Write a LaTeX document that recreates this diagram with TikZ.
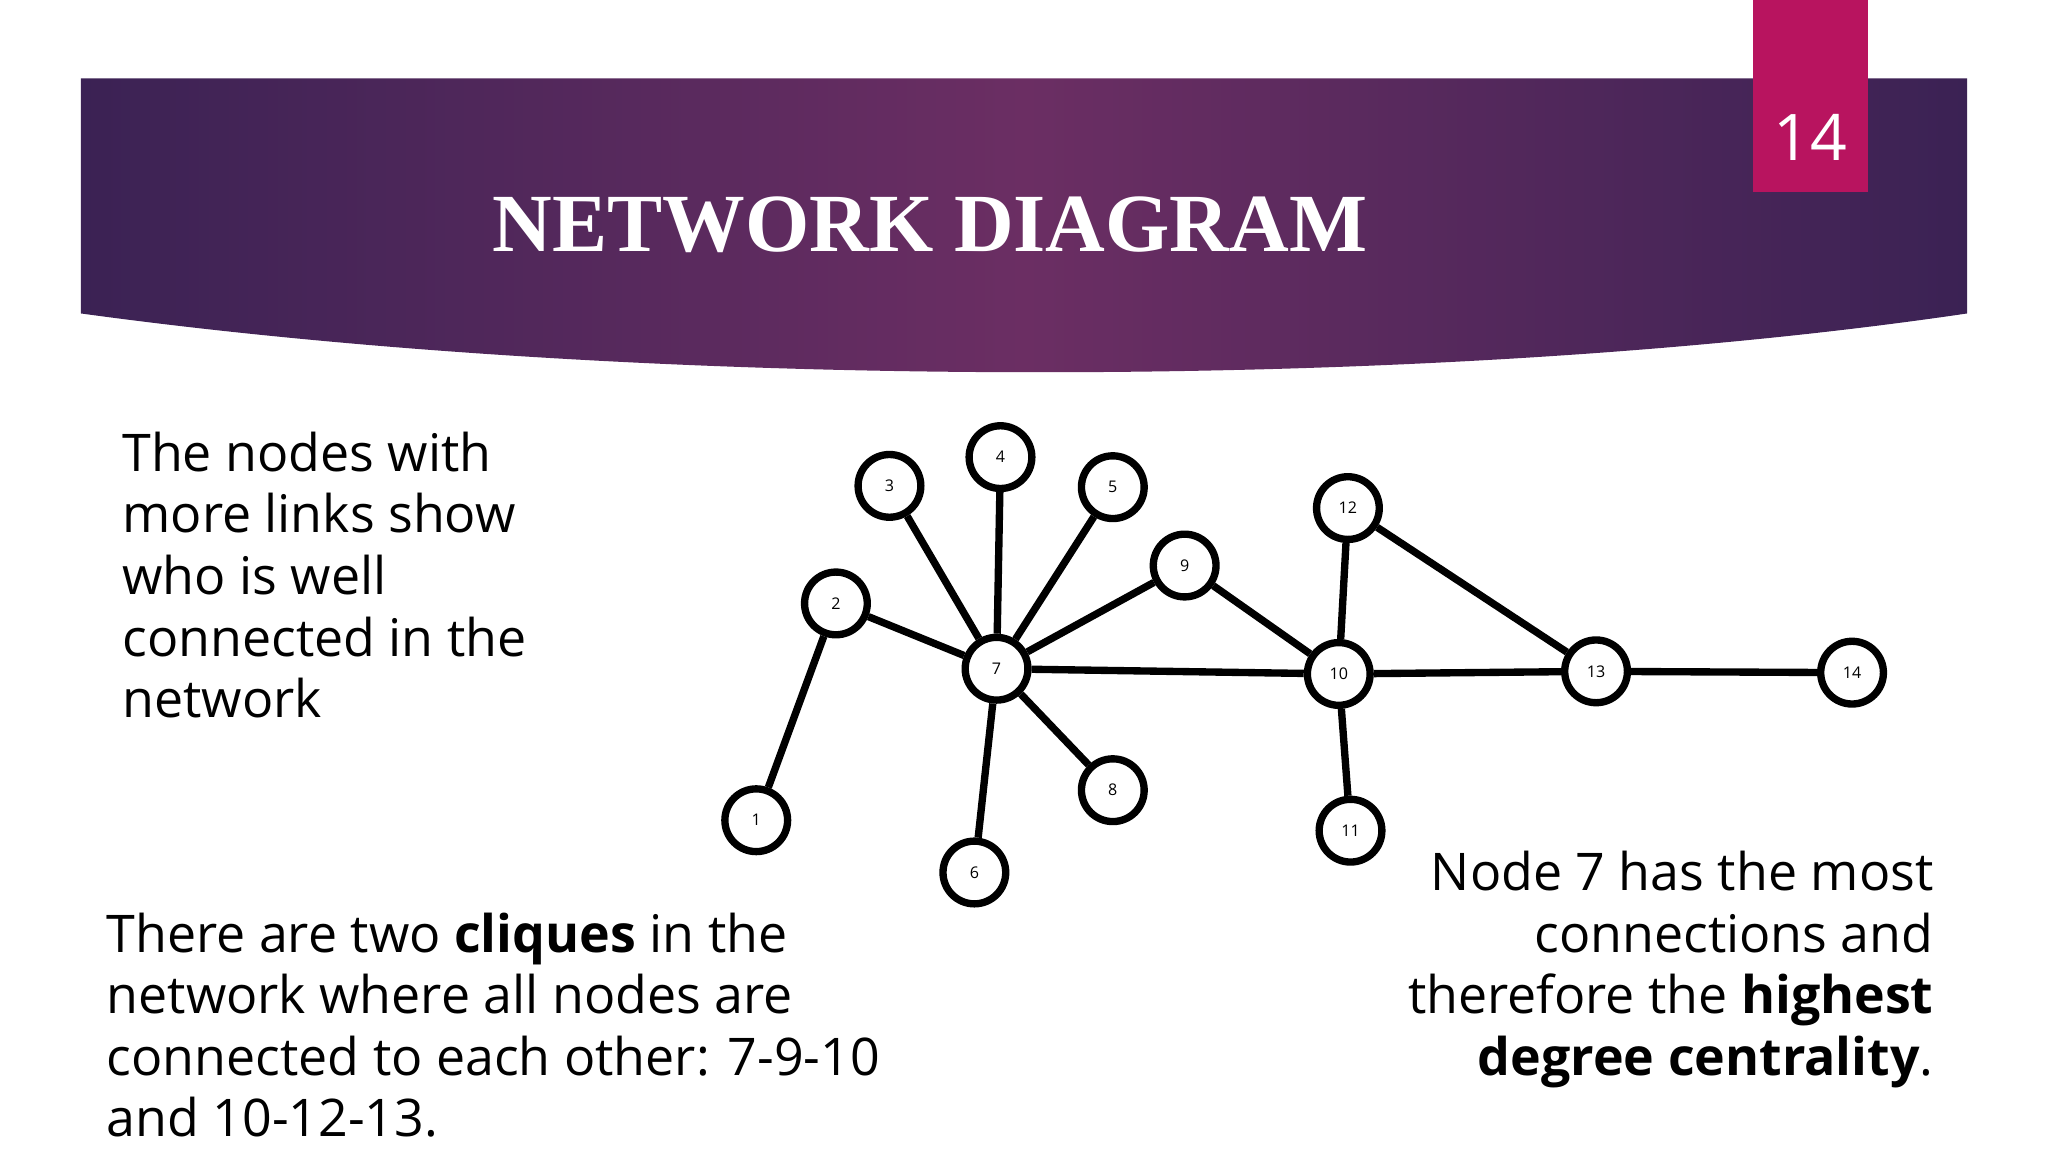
\documentclass[tikz,border=0pt]{standalone}
\usepackage{fontspec}
\setmainfont{Open Sans}
\newfontfamily\titlefont{Liberation Serif}
\usetikzlibrary{positioning}
\definecolor{bandL}{HTML}{3B2254}
\definecolor{bandC}{HTML}{6B2E63}
\definecolor{pagebox}{HTML}{B8145F}
\begin{document}
\begin{tikzpicture}[x=0.01cm,y=-0.01cm,
    vertex/.style={circle, draw=black, line width=1.6pt, fill=white, minimum size=0.48cm, inner sep=0pt, font=\fontsize{3.5}{4}\selectfont},
    link/.style={line width=1.6pt},
    body/.style={font=\fontsize{11.3}{13.4}\selectfont, align=left, inner sep=0pt}
  ]
  \useasboundingbox (0,0) rectangle (1568,882);
  \fill[white] (0,0) rectangle (1568,882);

  % header band
  \shade[left color=bandL, right color=bandL, middle color=bandC]
    (62,60) -- (1506,60) -- (1506,240) .. controls (1100,300) and (500,300) .. (62,240) -- cycle;
  \node[text=white, font=\titlefont\bfseries\fontsize{18}{20}\selectfont] (title) at (712,172) {NETWORK DIAGRAM};
  \fill[pagebox] (1342,0) rectangle (1430,147);
  \node[text=white, font=\fontsize{14}{16}\selectfont] (pnum) at (1386,105) {14};

  % nodes
  \node[vertex] (n1) at (579,628) {1};
  \node[vertex] (n2) at (640,462) {2};
  \node[vertex] (n3) at (681,372) {3};
  \node[vertex] (n4) at (766,350) {4};
  \node[vertex] (n5) at (852,373) {5};
  \node[vertex] (n6) at (746,668) {6};
  \node[vertex] (n7) at (763,512) {7};
  \node[vertex] (n8) at (852,605) {8};
  \node[vertex] (n9) at (907,433) {9};
  \node[vertex] (n10) at (1025,516) {10};
  \node[vertex] (n11) at (1034,636) {11};
  \node[vertex] (n12) at (1032,389) {12};
  \node[vertex] (n13) at (1222,514) {13};
  \node[vertex] (n14) at (1418,515) {14};

  % links
  \foreach \a/\b in {1/2, 2/7, 3/7, 4/7, 5/7, 6/7, 8/7, 9/7, 7/10, 9/10, 10/12, 10/11, 12/13, 10/13, 13/14}
    \draw[link] (n\a) -- (n\b);

  % texts
  \node[body, anchor=north west] (left) at (93,330)
    {The nodes with\\more links show\\who is well\\connected in the\\network};
  \node[body, anchor=north west] (bottom) at (81,698)
    {There are two \textbf{cliques} in the\\network where all nodes are\\connected to each other: 7-9-10\\and 10-12-13.};
  \node[body, anchor=north east, align=right] (right) at (1481,651)
    {Node 7 has the most\\connections and\\therefore the \textbf{highest}\\\textbf{degree centrality}.};
\end{tikzpicture}
\end{document}
